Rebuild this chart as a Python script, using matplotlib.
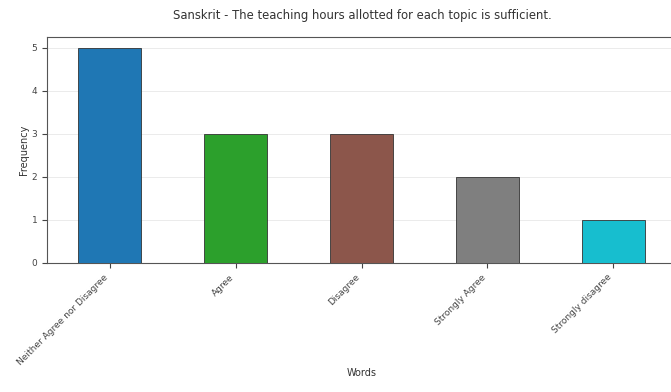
import matplotlib
matplotlib.use("Agg")
import matplotlib.pyplot as plt

categories = ["Neither Agree nor Disagree", "Agree", "Disagree", "Strongly Agree", "Strongly disagree"]
values = [5, 3, 3, 2, 1]
colors = ["#1f77b4", "#2ca02c", "#8c564b", "#7f7f7f", "#17becf"]

fig = plt.figure(figsize=(6.71, 3.92), dpi=100)
ax = fig.add_axes([47/671, 1-263/392, (676-47)/671, (263-37)/392])
x = list(range(len(categories)))
ax.bar(x, values, width=0.5, color=colors, edgecolor="#333333", linewidth=0.6, zorder=3)
ax.set_xlim(-0.5, 4.5)
ax.set_ylim(0, 5.25)
ax.set_xticks(x)
ax.set_xticklabels(categories, rotation=45, ha="right", fontsize=6.5, color="#444444")
ax.tick_params(axis="y", labelsize=6.5, colors="#444444")
ax.tick_params(axis="x", colors="#444444")
ax.yaxis.grid(True, color="#dddddd", linewidth=0.6, alpha=0.7, zorder=0)
ax.set_xlabel("Words", fontsize=7, color="#333333", labelpad=1)
ax.set_ylabel("Frequency", fontsize=7, color="#333333", labelpad=2)
for s in ax.spines.values():
    s.set_color("#555555")
fig.text(362/671, 1-15/392, "Sanskrit - The teaching hours allotted for each topic is sufficient.",
         ha="center", va="center", fontsize=8.4, color="#333333")
fig.savefig("out.png", dpi=100)
